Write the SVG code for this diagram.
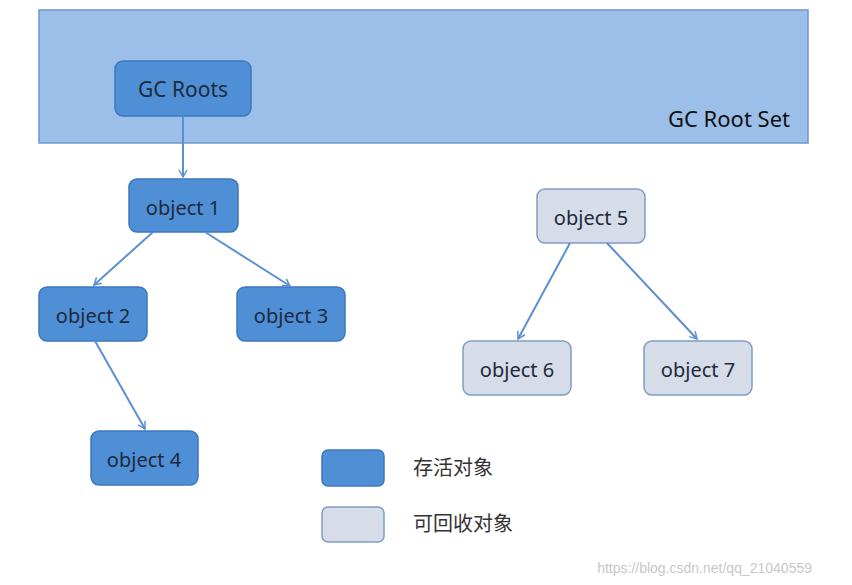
<svg xmlns="http://www.w3.org/2000/svg" width="852" height="585" viewBox="0 0 852 585">
<style>
.live{fill:#4f8fd6;stroke:#3c78bd;stroke-width:1.5}
.dead{fill:#d6dde9;stroke:#7f9cc4;stroke-width:1.5}
.t{font-family:"Noto Sans","Liberation Sans",sans-serif;font-size:20px;fill:#1e2a3a;text-anchor:middle;dominant-baseline:central}
.c{font-family:"Liberation Sans","Noto Sans CJK SC",sans-serif;font-size:20px;fill:#333}
.e{stroke:#5b8fd4;stroke-width:2;fill:none;marker-end:url(#a)}
</style>
<defs><marker id="a" markerWidth="10" markerHeight="10" refX="8" refY="5" orient="auto" markerUnits="userSpaceOnUse"><path d="M1,1 L8,5 L1,9" fill="none" stroke="#5b8fd4" stroke-width="1.5"/></marker></defs>
<rect width="852" height="585" fill="#fff"/>
<g id="rootset"><rect x="39" y="10" width="769" height="133" fill="#9bbfe9" stroke="#6d97cc" stroke-width="1.5"/>
<text x="729" y="118" class="t" style="fill:#111;font-size:22px">GC Root Set</text></g>
<g id="gcroots"><rect class="live" x="115" y="61" width="136" height="55" rx="8"/><text class="t" x="183" y="89" style="font-size:21px">GC Roots</text></g>
<g id="o1"><rect class="live" x="129" y="179" width="109" height="53" rx="8"/><text class="t" x="183" y="207">object 1</text></g>
<g id="o2"><rect class="live" x="39" y="287" width="108" height="54" rx="8"/><text class="t" x="93" y="315">object 2</text></g>
<g id="o3"><rect class="live" x="237" y="287" width="108" height="54" rx="8"/><text class="t" x="291" y="315">object 3</text></g>
<g id="o4"><rect class="live" x="91" y="431" width="107" height="54" rx="8"/><text class="t" x="144" y="459">object 4</text></g>
<g id="o5"><rect class="dead" x="537" y="189" width="108" height="54" rx="8"/><text class="t" x="591" y="217">object 5</text></g>
<g id="o6"><rect class="dead" x="463" y="341" width="108" height="54" rx="8"/><text class="t" x="517" y="369">object 6</text></g>
<g id="o7"><rect class="dead" x="644" y="341" width="108" height="54" rx="8"/><text class="t" x="698" y="369">object 7</text></g>
<g id="connectors">
<line class="e" x1="183" y1="116" x2="183" y2="177"/>
<line class="e" x1="153" y1="232" x2="94" y2="285"/>
<line class="e" x1="205" y1="232" x2="290" y2="286"/>
<line class="e" x1="95" y1="341" x2="145" y2="429"/>
<line class="e" x1="570" y1="243" x2="518" y2="339"/>
<line class="e" x1="607" y1="243" x2="697" y2="339"/>
</g>
<g id="legend">
<rect class="live" x="322" y="450" width="62" height="36" rx="6"/>
<text class="c" x="413" y="475">存活对象</text>
<rect class="dead" x="322" y="507" width="62" height="35" rx="6"/>
<text class="c" x="413" y="531">可回收对象</text>
</g>
<text x="812" y="573" text-anchor="end" font-family="Liberation Sans,sans-serif" font-size="14" fill="#c8c8c8">https://blog.csdn.net/qq_21040559</text>
</svg>
